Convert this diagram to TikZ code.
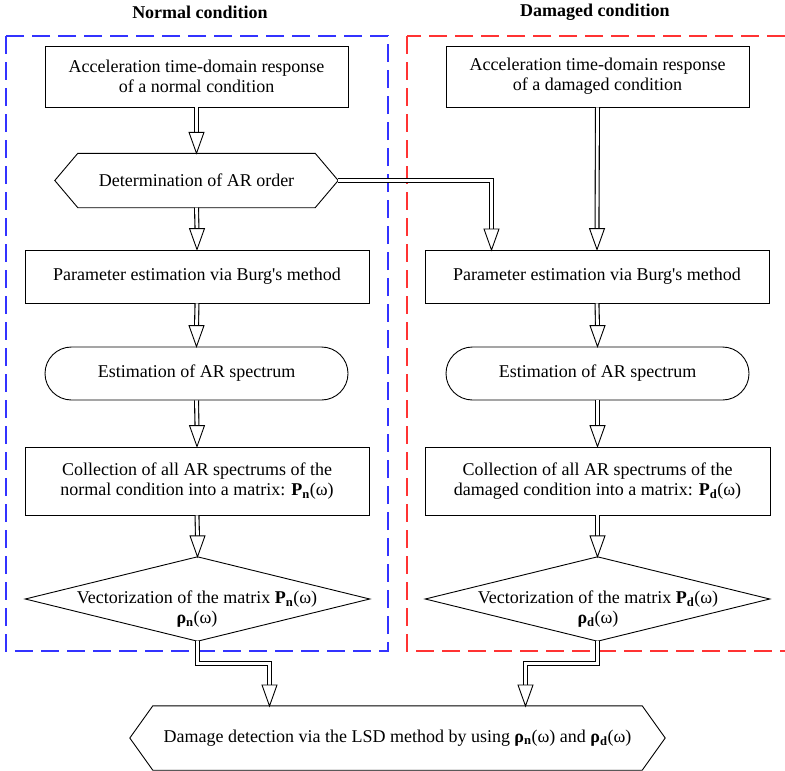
\documentclass[tikz,border=0pt]{standalone}
\usepackage{fontspec}
\setmainfont{Liberation Serif}[Ligatures=TeXOff]
\begin{document}
\begin{tikzpicture}[x=1pt,y=-1pt,
  every node/.style={font=\fontsize{18}{20}\selectfont},
  plain/.style={draw,line width=0.9pt,align=center,inner sep=0pt},
  ghost/.style={draw=none,align=center,inner sep=0pt},
  outl/.style={draw,line width=0.9pt},
  shaft/.style={double,double distance=2.8pt,line width=1.1pt},
  titl/.style={font=\fontsize{18}{20}\selectfont\bfseries},
  nbox/.style={draw=blue!80!white,line width=1.1pt,dash pattern=on 18pt off 8pt},
  dbox/.style={draw=red!80!white,line width=1.1pt,dash pattern=on 18pt off 8pt},
  pics/dhead/.style={code={\draw[fill=white,line width=0.9pt] (0,0) -- (-7.5pt,21pt) -- (7.5pt,21pt) -- cycle;}}
]
\useasboundingbox (0,0) rectangle (785,771);
\newcommand\bP[1]{\textbf{P}\textsubscript{\textbf{#1}}(ω)}
\newcommand\bR[1]{\textbf{ρ}\textsubscript{\textbf{#1}}(ω)}

% titles
\node[titl] (tN) at (200,12) {Normal condition};
\node[titl] (tD) at (595,12) {Damaged condition};

% dashed frames
\draw[nbox] (6,36) rectangle (388,651);
\draw[dbox] (407,36) rectangle (800,651);

% normal column
\node[plain,minimum width=303pt,minimum height=61pt] (nA) at (196.5,76.5)
  {Acceleration time-domain response\\of a normal condition};
\node[ghost,minimum width=283pt,minimum height=54pt] (nH) at (196.5,180.5)
  {Determination of AR order};
\draw[outl] (nH.west) -- ([xshift=23pt]nH.north west) -- ([xshift=-23pt]nH.north east)
  -- (nH.east) -- ([xshift=-23pt]nH.south east) -- ([xshift=23pt]nH.south west) -- cycle;
\node[plain,minimum width=344pt,minimum height=53pt] (nP) at (197,276.5)
  {Parameter estimation via Burg's method};
\node[plain,rounded corners=26.5pt,minimum width=303pt,minimum height=53pt] (nE) at (196.5,373.5)
  {Estimation of AR spectrum};
\node[plain,minimum width=344pt,minimum height=68pt] (nC) at (197,481)
  {Collection of all AR spectrums of the\\normal condition into a matrix: \bP{n}};
\node[ghost,minimum width=344pt,minimum height=84pt] (nD) at (197.5,599) {};
\draw[outl] (nD.north) -- (nD.east) -- (nD.south) -- (nD.west) -- cycle;
\node[ghost] (nDt) at (197,609.5) {Vectorization of the matrix \bP{n}\\\bR{n}};

% damaged column
\node[plain,minimum width=303pt,minimum height=61pt] (dA) at (597.5,76.5)
  {Acceleration time-domain response\\of a damaged condition};
\node[plain,minimum width=344pt,minimum height=53pt] (dP) at (597,276.5)
  {Parameter estimation via Burg's method};
\node[plain,rounded corners=26.5pt,minimum width=303pt,minimum height=53pt] (dE) at (597.5,373.5)
  {Estimation of AR spectrum};
\node[plain,minimum width=345pt,minimum height=68pt] (dC) at (597.5,481)
  {Collection of all AR spectrums of the\\damaged condition into a matrix: \bP{d}};
\node[ghost,minimum width=344pt,minimum height=84pt] (dD) at (597.5,599) {};
\draw[outl] (dD.north) -- (dD.east) -- (dD.south) -- (dD.west) -- cycle;
\node[ghost] (dDt) at (598,609.5) {Vectorization of the matrix \bP{d}\\\bR{d}};

% bottom
\node[ghost,minimum width=535pt,minimum height=64pt] (B) at (397.5,738)
  {Damage detection via the LSD method by using \bR{n} and \bR{d}};
\draw[outl] (B.west) -- ([xshift=23pt]B.north west) -- ([xshift=-23pt]B.north east)
  -- (B.east) -- ([xshift=-23pt]B.south east) -- ([xshift=23pt]B.south west) -- cycle;

% connectors
\coordinate (c1) at (491.5,250);
\coordinate (b1) at (269.5,706);
\coordinate (b2) at (525.5,706);

\draw[shaft] (nA.south) -- ([yshift=20pt]nH.north);  \path (nH.north) pic{dhead};
\draw[shaft] (nH.south) -- ([yshift=20pt]nP.north);  \path (nP.north) pic{dhead};
\draw[shaft] (nP.south) -- ([yshift=20pt]nE.north);  \path (nE.north) pic{dhead};
\draw[shaft] (nE.south) -- ([yshift=20pt]nC.north);  \path (nC.north) pic{dhead};
\draw[shaft] (nC.south) -- ([yshift=20pt]nD.north);  \path (nD.north) pic{dhead};

\draw[shaft] (nH.east) -| ([yshift=20pt]c1);  \path (c1) pic{dhead};
\draw[shaft] (dA.south) -- ([yshift=20pt]dP.north);  \path (dP.north) pic{dhead};
\draw[shaft] (dP.south) -- ([yshift=20pt]dE.north);  \path (dE.north) pic{dhead};
\draw[shaft] (dE.south) -- ([yshift=20pt]dC.north);  \path (dC.north) pic{dhead};
\draw[shaft] (dC.south) -- ([yshift=20pt]dD.north);  \path (dD.north) pic{dhead};

\draw[shaft] (nD.south) -- (nD.south |- 0,663.5) -| ([yshift=20pt]b1);  \path (b1) pic{dhead};
\draw[shaft] (dD.south) -- (dD.south |- 0,663.5) -| ([yshift=20pt]b2);  \path (b2) pic{dhead};
\end{tikzpicture}
\end{document}
